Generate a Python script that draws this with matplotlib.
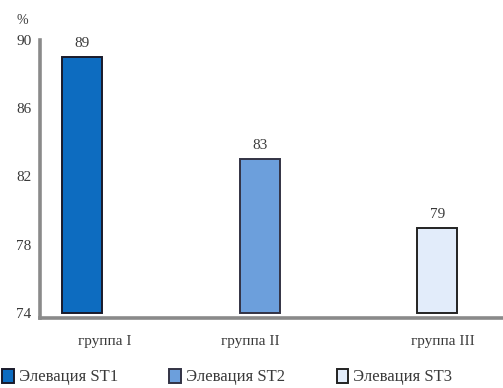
import matplotlib.pyplot as plt
import numpy as np

# data
groups = ['группа I', 'группа II', 'группа III']
series = ['Элевация ST1', 'Элевация ST2', 'Элевация ST3']
values = [89, 83, 79]
yticks = [74, 78, 82, 86, 90]

colors = ['#0d6cc0', '#6c9fdc', '#e2ecfa']
edges = ['#1a1a2a', '#333344', '#222222']

plt.rcParams['font.family'] = ['Liberation Serif', 'DejaVu Serif']
fontsize = 11
txt_color = '#3a3a3a'

fig = plt.figure(figsize=(5.03, 3.88), dpi=100)
ax = fig.add_axes([40/503, 1 - 318/388, 1 - 40/503, 278/388])

x = np.arange(len(values))
bars = []
for i in range(len(values)):
	b = ax.bar(x[i], values[i] - 74, bottom=74, width=0.225, color=colors[i],
	           edgecolor=edges[i], linewidth=1.4, label=series[i], zorder=3)
	bars.append(b)
	ax.annotate(str(values[i]), (x[i], values[i]), xytext=(0, 5), textcoords='offset points',
	            ha='center', va='bottom', fontsize=fontsize, color=txt_color)

ax.set_xlim(-0.237, 2.37)
ax.set_ylim(73.7, 90)
ax.set_yticks(yticks)
ax.set_yticklabels([str(t) for t in yticks])

# group labels sit a little off the bar centres
label_pos = [0.13, 0.95, 2.03]
ax.set_xticks(label_pos)
ax.set_xticklabels(groups)

ax.tick_params(axis='both', length=0, labelsize=fontsize, colors=txt_color)
ax.tick_params(axis='x', pad=12)
ax.tick_params(axis='y', pad=6)
for s in ['top', 'right']:
	ax.spines[s].set_visible(False)
for s in ['left', 'bottom']:
	ax.spines[s].set_color('#8a8a8a')
	ax.spines[s].set_linewidth(2.6)

fig.text(22/503, 1 - 20/388, '%', fontsize=fontsize - 1, color=txt_color,
         ha='center', va='center')

fig.legend(handles=[b[0] for b in bars], labels=series, loc='center left',
           bbox_to_anchor=(2/503, 1 - 377/388), ncol=3, frameon=False, fontsize=12,
           handlelength=0.7, handleheight=0.9, handletextpad=0.3, columnspacing=3.1,
           borderpad=0, borderaxespad=0, labelcolor=txt_color)

fig.savefig('out.png', dpi=100)
